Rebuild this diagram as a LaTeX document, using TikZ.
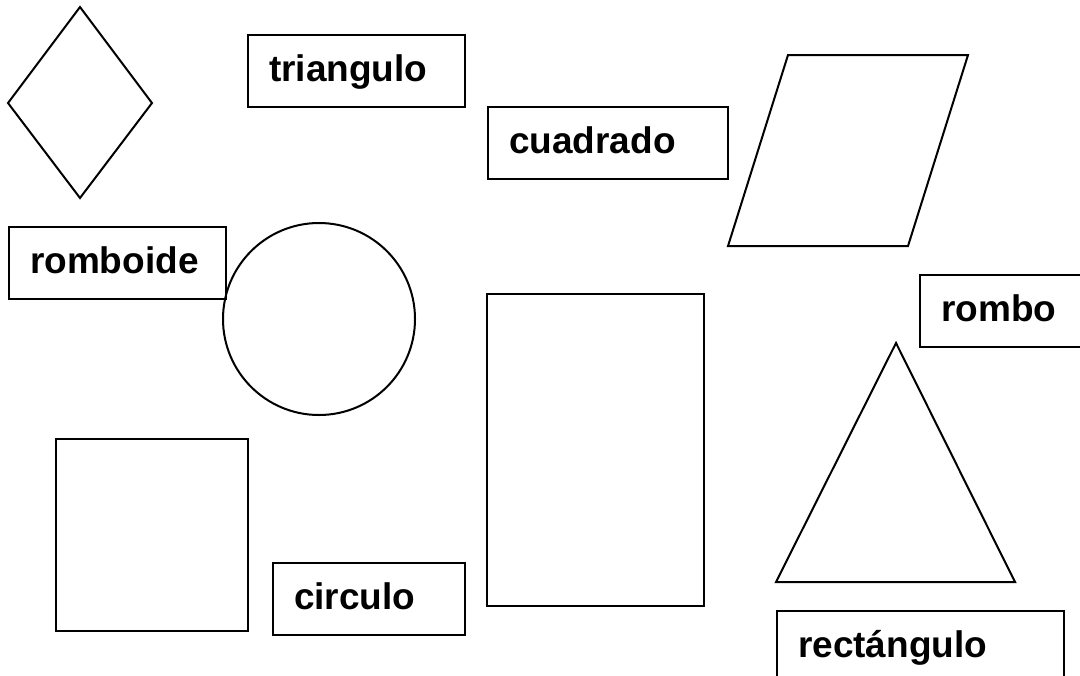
\documentclass[tikz,border=0pt]{standalone}
\usepackage{fontspec}
\setmainfont{Liberation Sans}
\begin{document}
\begin{tikzpicture}
          [x=0.5pt,y=-0.5pt,line width=1pt,
           every node/.style={draw, anchor=north west, align=left, line width=1.1pt,
             minimum height=36pt, inner xsep=10.5pt, text height=13.5pt, text depth=3.5pt,
             font=\bfseries\fontsize{18.5}{20}\selectfont}]
        \useasboundingbox (0,0) rectangle (1080,675);
        \clip (0,0) rectangle (1080,675);

        \node[text width=87.5pt] (triangulo) at (247,34) {triangulo};
        \node[text width=99pt] (cuadrado) at (487,106) {cuadrado};
        \node[text width=87.5pt] (romboide) at (8,226) {romboide};
        \node[text width=79pt] (rombo) at (919,274) {rombo};
        \node[text width=75pt] (circulo) at (272,562) {circulo};
        \node[text width=122.5pt] (rectangulo) at (776,610) {rectángulo};

        % figuras
        \draw (80,7) -- (152,103) -- (80,198) -- (8,103) -- cycle;
        \draw (788,55) -- (968,55) -- (908,246) -- (728,246) -- cycle;
        \draw (319,319) circle [radius=96];
        \draw (487,294) rectangle (704,606);
        \draw (56,439) rectangle (248,631);
        \draw (896,343) -- (1015,582) -- (776,582) -- cycle;
      \end{tikzpicture}
\end{document}
